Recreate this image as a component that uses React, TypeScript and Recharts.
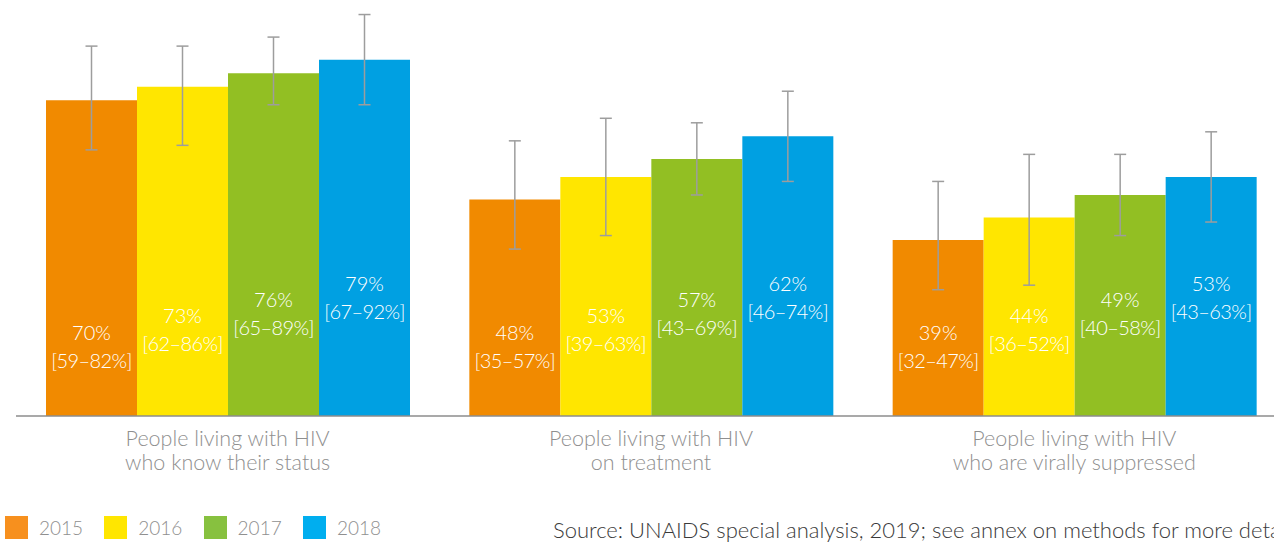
import React from "react";
import { BarChart, Bar, XAxis, YAxis, ErrorBar, LabelList } from "recharts";

// ---- data ----
const CATEGORIES = [
  "People living with HIV\nwho know their status",
  "People living with HIV\non treatment",
  "People living with HIV\nwho are virally suppressed",
];
const YEARS = ["2015", "2016", "2017", "2018"];

const VALUES_2015 = [70, 48, 39];
const VALUES_2016 = [73, 53, 44];
const VALUES_2017 = [76, 57, 49];
const VALUES_2018 = [79, 62, 53];

// printed uncertainty ranges
const CI_LOW_2015 = [59, 35, 32];
const CI_HIGH_2015 = [82, 57, 47];
const CI_LOW_2016 = [62, 39, 36];
const CI_HIGH_2016 = [86, 63, 52];
const CI_LOW_2017 = [65, 43, 40];
const CI_HIGH_2017 = [89, 69, 58];
const CI_LOW_2018 = [67, 46, 43];
const CI_HIGH_2018 = [92, 74, 63];

// error bars as drawn in the picture
const ERR_LOW_2015 = [59, 37, 28];
const ERR_HIGH_2015 = [82, 61, 52];
const ERR_LOW_2016 = [60, 40, 29];
const ERR_HIGH_2016 = [82, 66, 58];
const ERR_LOW_2017 = [69, 49, 40];
const ERR_HIGH_2017 = [84, 65, 58];
const ERR_LOW_2018 = [69, 52, 43];
const ERR_HIGH_2018 = [89, 72, 63];

const SOURCE_TEXT =
  "Source: UNAIDS special analysis, 2019; see annex on methods for more details.";

// ---- styles ----
const BAR_COLORS = ["#F18A00", "#FFE600", "#92BF23", "#00A0E2"];
const LEGEND_COLORS = ["#F7901E", "#FFE600", "#87C13F", "#00AEEF"];
const LABEL_LIFT = [84, 101, 117, 133];
const FONT = "Lato, 'Open Sans', sans-serif";

const VALUES = [VALUES_2015, VALUES_2016, VALUES_2017, VALUES_2018];
const CI_LOW = [CI_LOW_2015, CI_LOW_2016, CI_LOW_2017, CI_LOW_2018];
const CI_HIGH = [CI_HIGH_2015, CI_HIGH_2016, CI_HIGH_2017, CI_HIGH_2018];
const ERR_LOW = [ERR_LOW_2015, ERR_LOW_2016, ERR_LOW_2017, ERR_LOW_2018];
const ERR_HIGH = [ERR_HIGH_2015, ERR_HIGH_2016, ERR_HIGH_2017, ERR_HIGH_2018];

const data = CATEGORIES.map((category, c) => {
  const row: any = { category };
  YEARS.forEach((y, s) => {
    const v = VALUES[s][c];
    row["v" + y] = v;
    row["e" + y] = [v - ERR_LOW[s][c], ERR_HIGH[s][c] - v];
    row["ci" + y] = "[" + CI_LOW[s][c] + "\u2013" + CI_HIGH[s][c] + "%]";
  });
  return row;
});

const CategoryTick = (props: any) => {
  const { x, y, payload } = props;
  const lines = String(payload.value).split("\n");
  return (
    <g>
      {lines.map((l, i) => (
        <text
          key={i}
          x={x}
          y={y + 22 + i * 24}
          textAnchor="middle"
          dominantBaseline="central"
          fill="#8f8f8f"
          fontSize={21.5}
          fontFamily={FONT}
          fontWeight={300}
        >
          {l}
        </text>
      ))}
    </g>
  );
};

const makeLabel = (s: number) => (props: any) => {
  const { x, y, width, height, index } = props;
  const base = Number(y) + Number(height);
  const cx = Number(x) + Number(width) / 2;
  const row = data[index];
  const yr = YEARS[s];
  const ty = base - LABEL_LIFT[s];
  return (
    <g>
      <text
        x={cx}
        y={ty}
        textAnchor="middle"
        dominantBaseline="central"
        fill="#ffffff"
        fontSize={20}
        fontFamily={FONT}
        fontWeight={300}
      >
        {row["v" + yr] + "%"}
      </text>
      <text
        x={cx}
        y={ty + 28}
        textAnchor="middle"
        dominantBaseline="central"
        fill="#ffffff"
        fontSize={20}
        fontFamily={FONT}
        fontWeight={300}
        letterSpacing={-0.6}
      >
        {row["ci" + yr]}
      </text>
    </g>
  );
};

export default function App() {
  return (
    <div
      style={{
        position: "absolute",
        left: 0,
        top: 0,
        width: 1274,
        height: 543,
        overflow: "hidden",
        background: "#ffffff",
        fontFamily: FONT,
      }}
    >
      <BarChart
        width={1274}
        height={543}
        data={data}
        margin={{ top: 1, right: -12, bottom: 97, left: 16 }}
        barCategoryGap={30}
        barGap={0}
      >
        <XAxis
          dataKey="category"
          height={30}
          tickLine={false}
          tickSize={0}
          tickMargin={0}
          axisLine={{ stroke: "#8c8c8c", strokeWidth: 1.5 }}
          tick={<CategoryTick />}
          interval={0}
        />
        <YAxis hide domain={[0, 92]} allowDataOverflow />
        {YEARS.map((yr, s) => (
          <Bar
            key={yr}
            dataKey={"v" + yr}
            name={yr}
            fill={BAR_COLORS[s]}
            isAnimationActive={false}
          >
            <LabelList dataKey={"v" + yr} content={makeLabel(s)} />
            <ErrorBar
              dataKey={"e" + yr}
              width={6}
              stroke="#9d9d9d"
              strokeWidth={1.5}
              isAnimationActive={false}
            />
          </Bar>
        ))}
      </BarChart>
      {YEARS.map((yr, s) => (
        <div
          key={yr}
          style={{
            position: "absolute",
            left: 5 + s * 99.3,
            top: 516,
            display: "flex",
            alignItems: "center",
            height: 23,
          }}
        >
          <div style={{ width: 23, height: 23, background: LEGEND_COLORS[s] }} />
          <span
            style={{
              marginLeft: 11,
              fontSize: 19,
              color: "#8f8f8f",
              fontWeight: 300,
              lineHeight: "23px",
            }}
          >
            {yr}
          </span>
        </div>
      ))}
      <div
        style={{
          position: "absolute",
          left: 553,
          top: 517,
          fontSize: 22,
          lineHeight: "26px",
          color: "#3a3a3a",
          fontWeight: 300,
          whiteSpace: "nowrap",
        }}
      >
        {SOURCE_TEXT}
      </div>
    </div>
  );
}
